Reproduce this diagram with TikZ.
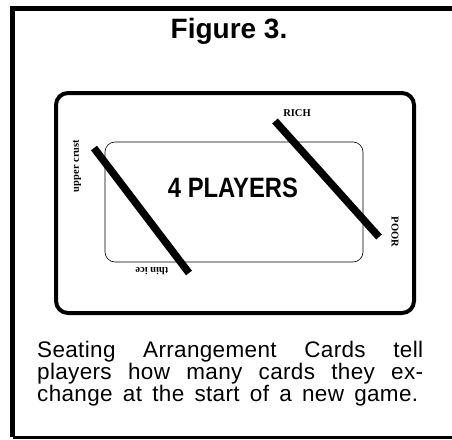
\documentclass[tikz,border=0pt]{standalone}
\usepackage{fontspec}
\usepackage{graphicx}
\setmainfont{Liberation Sans}
\newfontfamily\cardfont{Liberation Serif}
\newfontfamily\capfont[LetterSpace=1.5]{Liberation Sans}
\usetikzlibrary{positioning}

\begin{document}
\begin{tikzpicture}[x=1pt, y=-1pt,
  frame/.style={line width=5pt},
  card/.style={draw, line width=4pt, rounded corners=12pt},
  inner/.style={draw, line width=0.6pt, rounded corners=10pt},
  bar/.style={line width=7.5pt},
  seat/.style={font=\cardfont\bfseries\fontsize{10.5}{11}\selectfont, inner sep=0pt},
  capline/.style={anchor=base west, inner sep=0pt, font=\capfont\fontsize{22.5}{23}\selectfont}]
\useasboundingbox (0,0) rectangle (452,439);
% outer frame, open on the right
\draw[frame] (12.5,437) -- (12.5,8) -- (452,8);
\draw[line width=3pt] (12.5,437) -- (452,437);
\node[font=\bfseries\fontsize{28}{29}\selectfont] (title) at (229,31) {Figure 3.};
% the card
\draw[card] (56,93) rectangle (414,313);
\draw[inner] (105,142) rectangle (363,262);
\node[font=\bfseries\fontsize{28}{29}\selectfont] (players) at (233,188) {\scalebox{0.85}[1]{4 PLAYERS}};
\node[seat] (rich) at (297,113) {RICH};
\node[seat, rotate=-90] (poor) at (395,232) {POOR};
\node[seat, rotate=90] (crust) at (77,166) {upper crust};
\node[seat, rotate=180] (ice) at (152,271) {thin ice};
\draw[bar] (94,148) -- (189,273);
\draw[bar] (275,121) -- (379,237);
% caption
\node[capline] (cap1) at (37,357) {\makebox[386pt][s]{Seating Arrangement Cards tell}};
\node[capline] (cap2) at (37,379) {\makebox[386pt][s]{players how many cards they ex-}};
\node[capline] (cap3) at (37,401) {\makebox[381pt][s]{change at the start of a new game.}};
\end{tikzpicture}
\end{document}
